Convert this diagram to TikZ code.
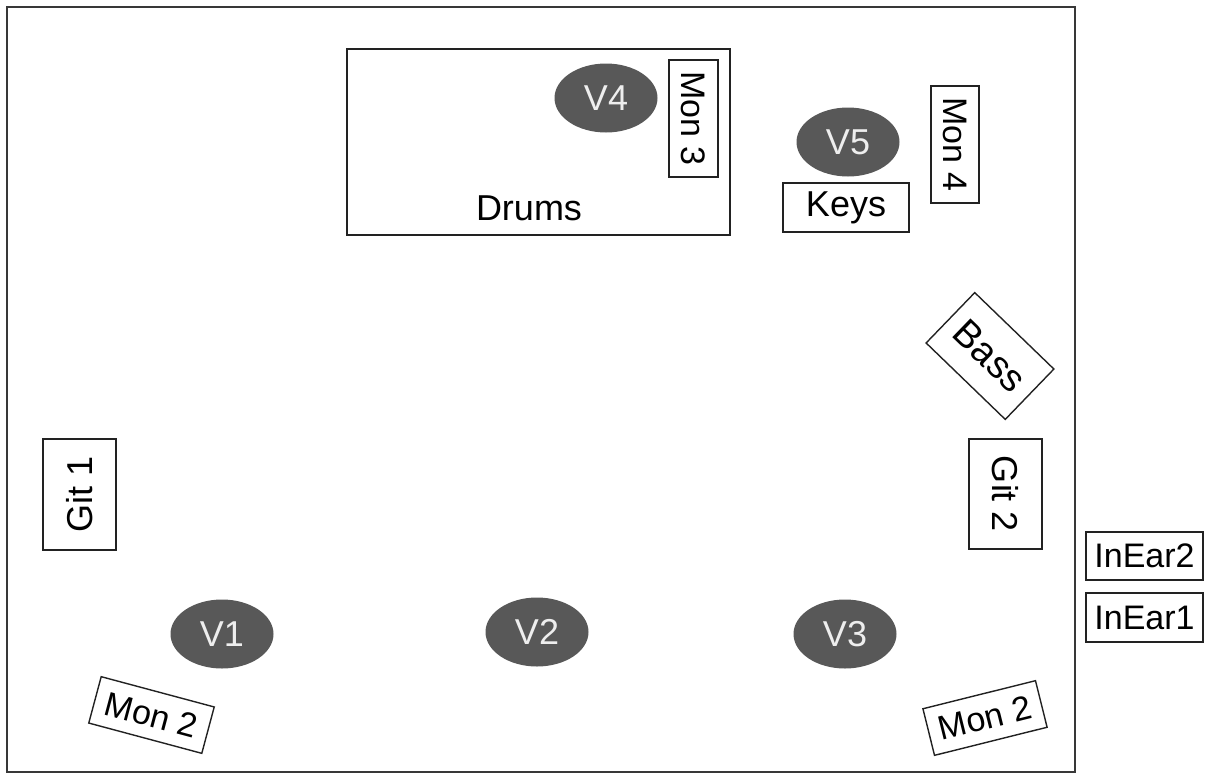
\documentclass[tikz,border=0pt]{standalone}
\usepackage{fontspec}
\setmainfont{Liberation Sans}
\usetikzlibrary{shapes.geometric}
\definecolor{voicegrey}{HTML}{585858}
\definecolor{voicetext}{HTML}{EEEEEE}
\definecolor{linegrey}{HTML}{222222}
\tikzset{
	stagebox/.style = {draw = linegrey, line width = 1.4, inner sep = 0, font = \fontsize{34}{38}\selectfont},
	voice/.style = {ellipse, fill = voicegrey, text = voicetext, inner sep = 0,
		minimum width = 103, minimum height = 69, font = \fontsize{36}{40}\selectfont}
}
\begin{document}
\begin{tikzpicture}[x = 1pt, y = -1pt]

	\useasboundingbox (0,0) rectangle (1205,774);

	\draw 	[line width = 2, draw = linegrey!90] (7,7) rectangle (1075,772);

	\node 	[stagebox, minimum width = 383, minimum height = 186] (drums) at (538.5,142) {};
	\node 	[font = \fontsize{36}{40}\selectfont] (drumslabel) at (529,208) {Drums};

	\node 	[voice] (V4) at (606,98) {V4};
	\node 	[voice] (V5) at (848,142) {V5};
	\foreach \name/\x/\y in {V1/222/634, V2/537/632, V3/845/634}
		\node [voice] (\name) at (\x,\y) {\name};

	\node 	[stagebox, rotate = -90, minimum width = 117, minimum height = 49] (mon3) at (693.5,118.5) {Mon 3};
	\node 	[stagebox, rotate = -90, minimum width = 117, minimum height = 48] (mon4) at (955,144.5) {Mon 4};
	\node 	[stagebox, minimum width = 126, minimum height = 49, font = \fontsize{36}{40}\selectfont] (keys) at (846,207.5) {Keys};

	\node 	[stagebox, rotate = -44, minimum width = 110, minimum height = 70, font = \fontsize{38}{42}\selectfont] (bass) at (990,356) {Bass};
	\node 	[stagebox, rotate = -90, minimum width = 110, minimum height = 73, font = \fontsize{36}{40}\selectfont] (git2) at (1005.5,494) {Git 2};
	\node 	[stagebox, rotate = 90, minimum width = 111, minimum height = 73, font = \fontsize{36}{40}\selectfont] (git1) at (79.5,494.5) {Git 1};

	\node 	[stagebox, rotate = -15, minimum width = 117, minimum height = 48] (mon2left) at (151.5,715) {Mon 2};
	\node 	[stagebox, rotate = 14, minimum width = 116, minimum height = 48] (mon2right) at (985,718) {Mon 2};

	\node 	[stagebox, minimum width = 117, minimum height = 48] (inear2) at (1144.5,556) {InEar2};
	\node 	[stagebox, minimum width = 117, minimum height = 49] (inear1) at (1144.5,617.5) {InEar1};

\end{tikzpicture}
\end{document}
